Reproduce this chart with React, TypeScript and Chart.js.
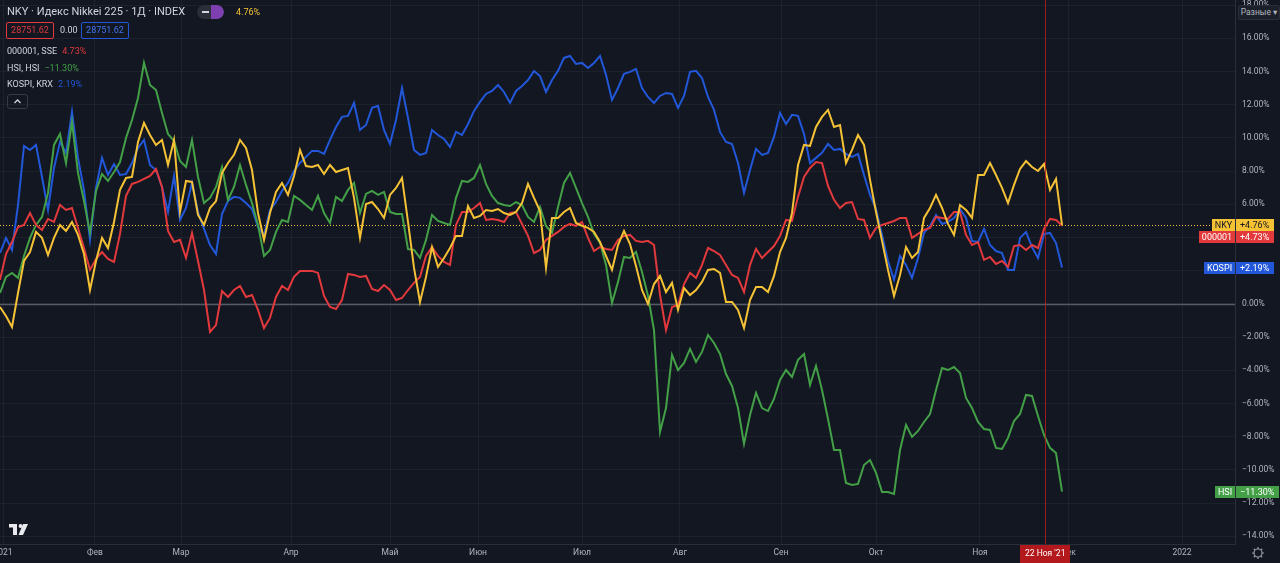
import React, { useEffect, useRef } from 'react';
import { Chart, registerables } from 'chart.js';

Chart.register(...registerables);

// ---------------- data (percent change since start, sampled along the time axis) ----------------
const nkyValues = [
  -0.18, -0.72, -1.39, 0.66, 2.59, 3.13, 4.34, 3.98, 2.95, 3.98,
  4.76, 4.40, 4.94, 4.16, 3.01, 0.84, 2.59, 3.98, 3.37, 4.94,
  6.87, 7.59, 7.65, 9.76, 10.90, 10.18, 9.58, 9.88, 8.37, 9.88,
  5.54, 7.41, 7.35, 5.36, 4.76, 5.78, 6.20, 7.89, 8.49, 8.98,
  9.88, 9.40, 8.07, 5.48, 3.86, 5.48, 6.75, 7.29, 6.57, 7.71,
  9.28, 8.31, 8.25, 8.37, 7.83, 8.37, 7.95, 8.07, 8.19, 6.39,
  3.98, 6.02, 6.14, 5.72, 5.18, 6.57, 6.99, 7.59, 4.94, 2.17,
  0.12, 1.63, 3.43, 2.23, 2.77, 3.37, 4.10, 4.10, 5.90, 5.18,
  5.30, 5.66, 5.60, 5.72, 5.48, 5.36, 5.54, 6.08, 7.23, 6.39,
  5.60, 2.17, 5.18, 5.18, 5.54, 5.78, 4.88, 4.70, 4.58, 4.34,
  3.73, 2.89, 2.05, 3.55, 4.40, 3.61, 2.29, 0.84, 0.00, 1.20,
  1.69, 0.72, 1.27, -0.36, 0.96, 0.54, 0.84, 1.33, 2.05, 2.11,
  1.87, 0.12, 0.12, -0.36, -1.45, 0.24, 1.02, 1.02, 0.72, 1.69,
  3.13, 3.98, 5.48, 8.37, 9.58, 9.52, 10.66, 11.27, 11.69, 10.66,
  10.78, 8.49, 9.28, 10.18, 9.58, 7.47, 5.54, 3.80, 2.05, 0.48,
  1.75, 3.43, 2.77, 3.13, 5.18, 5.78, 6.57, 5.78, 4.82, 4.16,
  5.96, 5.66, 5.18, 7.77, 7.77, 8.49, 7.77, 6.99, 6.08, 7.17,
  8.13, 8.61, 8.25, 8.01, 8.43, 6.87, 7.53, 4.76,
];

const sseValues = [
  1.45, 3.01, 3.73, 4.64, 4.76, 5.48, 4.76, 4.46, 5.12, 4.94,
  5.96, 5.66, 5.78, 4.58, 3.37, 2.05, 2.71, 3.13, 2.71, 2.53,
  4.22, 6.51, 7.23, 7.35, 7.53, 7.71, 8.13, 7.05, 4.40, 3.73,
  3.86, 2.77, 4.28, 2.59, 0.84, -1.69, -1.27, 0.78, 0.42, 0.84,
  1.08, 0.42, 0.54, -0.36, -1.45, -0.84, 0.42, 1.08, 0.84, 1.63,
  1.99, 1.99, 1.99, 1.87, 0.48, -0.18, -0.30, 0.24, 1.81, 1.75,
  1.63, 1.69, 0.90, 0.78, 1.14, 0.84, 0.24, 0.36, 0.84, 1.27,
  1.63, 2.89, 3.43, 2.89, 2.53, 2.35, 4.76, 5.54, 5.54, 5.78,
  6.08, 5.06, 5.12, 5.06, 4.94, 5.48, 5.54, 4.82, 4.10, 3.07,
  3.25, 3.86, 4.10, 4.34, 4.64, 4.82, 4.70, 4.94, 3.98, 3.19,
  3.43, 3.31, 3.25, 3.86, 4.10, 4.16, 3.80, 3.73, 3.80, 3.55,
  0.54, -1.57, -0.18, -0.06, 1.20, 1.87, 1.57, 2.35, 3.37, 3.19,
  2.95, 2.35, 1.75, 1.57, 0.72, 2.35, 3.31, 2.77, 3.13, 3.49,
  4.10, 5.06, 5.00, 6.45, 7.65, 8.19, 8.55, 8.49, 7.11, 6.27,
  5.78, 6.08, 6.14, 5.12, 5.06, 3.98, 4.58, 4.76, 4.88, 5.00,
  5.18, 5.18, 3.98, 4.22, 4.46, 4.58, 5.24, 5.18, 5.12, 5.54,
  5.54, 4.16, 3.55, 3.73, 2.65, 2.83, 2.41, 2.59, 2.23, 3.49,
  3.55, 3.25, 3.55, 3.37, 4.52, 5.12, 5.06, 4.73,
];

const hsiValues = [
  0.66, 1.63, 1.87, 1.57, 2.89, 3.98, 4.76, 5.24, 6.69, 9.58,
  10.24, 8.49, 10.96, 7.89, 6.20, 4.28, 6.81, 7.83, 7.41, 7.95,
  8.55, 10.00, 11.08, 12.41, 14.52, 13.19, 12.89, 11.51, 10.24, 9.82,
  8.61, 8.25, 9.88, 7.65, 6.08, 6.39, 7.05, 8.25, 6.27, 7.05,
  8.37, 7.17, 6.08, 4.76, 2.89, 3.25, 4.34, 5.06, 4.94, 6.51,
  6.27, 5.96, 5.66, 6.51, 5.48, 4.88, 6.45, 6.20, 6.87, 7.29,
  5.48, 6.63, 6.81, 6.57, 6.75, 5.54, 5.42, 5.42, 3.31, 3.25,
  2.77, 3.86, 5.36, 5.00, 4.88, 4.76, 6.39, 7.41, 7.35, 7.59,
  8.37, 7.23, 6.51, 6.08, 5.96, 5.90, 6.14, 5.96, 5.24, 4.94,
  5.84, 4.70, 4.28, 5.84, 7.29, 7.89, 6.99, 6.08, 5.24, 4.22,
  3.67, 2.35, 0.06, 1.33, 2.83, 2.77, 3.13, 1.93, 0.48, -1.57,
  -7.71, -6.27, -3.07, -3.98, -3.55, -2.71, -3.49, -2.89, -1.87, -2.35,
  -3.01, -4.22, -4.94, -6.27, -8.43, -6.69, -5.36, -6.27, -6.45, -5.72,
  -4.58, -3.98, -4.40, -3.37, -3.01, -4.88, -3.73, -5.18, -6.93, -8.80,
  -8.80, -10.78, -10.90, -10.84, -9.70, -9.40, -10.18, -11.33, -11.33, -11.45,
  -8.80, -7.29, -8.01, -7.65, -7.11, -6.63, -5.18, -3.86, -3.98, -3.80,
  -4.16, -5.66, -6.27, -7.11, -7.53, -7.59, -8.67, -8.73, -8.07, -7.05,
  -6.63, -5.48, -5.54, -6.75, -7.89, -8.67, -8.98, -11.30,
];

const kospiValues = [
  3.07, 3.98, 3.25, 5.96, 9.52, 9.28, 9.58, 7.65, 5.66, 8.19,
  9.76, 9.10, 11.57, 8.80, 6.87, 3.86, 6.99, 8.80, 7.77, 8.43,
  7.77, 7.83, 8.49, 9.40, 9.88, 8.37, 8.07, 7.05, 5.54, 7.71,
  5.06, 5.78, 7.29, 5.54, 4.52, 3.55, 3.01, 5.42, 6.20, 6.45,
  6.39, 6.08, 5.72, 4.64, 4.16, 5.66, 6.14, 6.81, 7.29, 8.01,
  8.49, 8.86, 9.22, 9.22, 9.04, 9.88, 10.66, 11.27, 11.33, 12.11,
  10.48, 10.78, 11.81, 11.93, 10.48, 9.64, 11.08, 13.01, 11.20, 9.28,
  8.98, 9.10, 10.48, 10.18, 9.94, 9.46, 10.36, 10.18, 10.84, 11.63,
  12.17, 12.65, 12.83, 13.19, 12.77, 12.11, 12.83, 13.13, 13.49, 14.04,
  13.73, 12.77, 13.49, 14.04, 14.82, 14.94, 14.46, 14.52, 14.22, 14.52,
  14.94, 13.80, 12.29, 13.01, 13.86, 13.98, 14.16, 13.01, 12.47, 12.11,
  12.53, 12.71, 12.65, 11.81, 12.53, 13.98, 14.04, 13.61, 12.47, 11.69,
  10.36, 9.76, 9.64, 8.49, 6.69, 8.07, 9.34, 8.98, 9.10, 10.06,
  11.51, 10.84, 11.39, 11.33, 10.24, 8.49, 8.80, 9.10, 9.64, 9.28,
  9.34, 9.04, 8.86, 9.04, 7.77, 6.57, 5.72, 4.16, 2.59, 1.45,
  2.89, 2.35, 1.57, 2.77, 4.28, 4.70, 5.36, 4.82, 4.94, 5.18,
  5.72, 5.18, 3.80, 3.73, 4.52, 3.55, 3.19, 3.07, 2.05, 2.05,
  3.98, 4.34, 3.43, 2.77, 4.22, 4.28, 3.67, 2.19,
];

const sampleIndex = nkyValues.map((_, i) => i);

// time-axis ticks (in sample units) and their labels
const monthTickPositions = [0.5, 15.83, 30.17, 48.5, 65, 79.67, 97, 113.33, 130.17, 146, 163.33, 178, 197];
const monthTickLabels = ['2021', 'Фев', 'Мар', 'Апр', 'Май', 'Июн', 'Июл', 'Авг', 'Сен', 'Окт', 'Ноя', 'Дек', '2022'];
const percentTicks = [-14, -12, -10, -8, -6, -4, -2, 0, 2, 4, 6, 8, 10, 12, 14, 16, 18];
const xRangeMax = 205.83;
const yRangeMin = -14.46;
const yRangeMax = 18.31;
const crosshairPosition = 174.2;
const crosshairLabel = "22 Ноя '21";

const titleText = 'NKY · Идекс Nikkei 225 · 1Д · INDEX';
const priceText = '28751.62';
const changeText = '0.00';
const legendNames = ['000001, SSE', 'HSI, HSI', 'KOSPI, KRX'];
const scaleModeText = 'Разные';

// ---------------- styles ----------------
const BG = '#131722';
const GRID = 'rgba(255,255,255,0.045)';
const AXIS_LINE = '#2a2e39';
const TEXT = '#b2b5be';
const LEGEND_TEXT = '#d1d4dc';
const NKY_COLOR = '#f5c236';
const SSE_COLOR = '#e2393c';
const HSI_COLOR = '#43a047';
const KOSPI_COLOR = '#2157d8';
const FONT = 'Roboto, "Noto Sans", "DejaVu Sans", sans-serif';
const AXIS_FONT_SIZE = 8.5;
const LABEL_FONT_SIZE = 9;

const seriesDefs = [
  { key: 'NKY', values: nkyValues, color: NKY_COLOR, nameInk: '#131722', valueInk: '#131722' },
  { key: '000001', values: sseValues, color: SSE_COLOR, nameInk: '#ffffff', valueInk: '#ffffff' },
  { key: 'HSI', values: hsiValues, color: HSI_COLOR, nameInk: '#ffffff', valueInk: '#ffffff' },
  { key: 'KOSPI', values: kospiValues, color: KOSPI_COLOR, nameInk: '#ffffff', valueInk: '#ffffff' },
];

function fmtPct(v: number, sign = false): string {
  const s = Math.abs(v).toFixed(2) + '%';
  if (v < 0) return '\u2212' + s;
  return (sign ? '+' : '') + s;
}

const lastOf = (a: number[]) => a[a.length - 1];

const decorPlugin = {
  id: 'tvDecor',
  beforeDraw(chart: any) {
    const { ctx, width, height } = chart;
    ctx.save();
    ctx.fillStyle = BG;
    ctx.fillRect(0, 0, width, height);
    ctx.restore();
  },
  beforeDatasetsDraw(chart: any) {
    const { ctx, chartArea, scales } = chart;
    const y = scales.y;
    ctx.save();
    const y0 = Math.round(y.getPixelForValue(0)) + 0.5;
    ctx.strokeStyle = '#565a66';
    ctx.lineWidth = 1.5;
    ctx.beginPath();
    ctx.moveTo(chartArea.left, y0);
    ctx.lineTo(chartArea.right, y0);
    ctx.stroke();
    const yl = Math.round(y.getPixelForValue(lastOf(nkyValues))) + 0.5;
    ctx.strokeStyle = NKY_COLOR;
    ctx.lineWidth = 1;
    ctx.setLineDash([1, 2]);
    ctx.beginPath();
    ctx.moveTo(chartArea.left, yl);
    ctx.lineTo(chartArea.right, yl);
    ctx.stroke();
    ctx.restore();
  },
  afterDatasetsDraw(chart: any) {
    const { ctx, chartArea, scales } = chart;
    const cx = Math.round(scales.x.getPixelForValue(crosshairPosition)) + 0.5;
    ctx.save();
    ctx.strokeStyle = 'rgba(190,30,30,0.8)';
    ctx.lineWidth = 1;
    ctx.beginPath();
    ctx.moveTo(cx, chartArea.top);
    ctx.lineTo(cx, chartArea.bottom);
    ctx.stroke();
    ctx.restore();
  },
  afterDraw(chart: any) {
    const { ctx, chartArea, scales, height } = chart;
    const x = scales.x;
    const y = scales.y;
    ctx.save();
    ctx.textBaseline = 'middle';

    // crosshair time label
    ctx.font = `${AXIS_FONT_SIZE}px ${FONT}`;
    const cx = x.getPixelForValue(crosshairPosition);
    const tw = ctx.measureText(crosshairLabel).width + 10;
    ctx.fillStyle = '#b3191c';
    ctx.fillRect(Math.round(cx - tw / 2), chartArea.bottom + 1, Math.round(tw), height - chartArea.bottom - 1);
    ctx.fillStyle = '#ffffff';
    ctx.textAlign = 'center';
    ctx.fillText(crosshairLabel, cx, chartArea.bottom + 10);

    // last-value labels on the price scale
    ctx.font = `${LABEL_FONT_SIZE}px ${FONT}`;
    const H = 12;
    const items = seriesDefs.map((s) => ({ ...s, last: lastOf(s.values), py: y.getPixelForValue(lastOf(s.values)) }));
    items.sort((a, b) => a.py - b.py);
    for (let i = 1; i < items.length; i++) {
      if (items[i].py < items[i - 1].py + H) items[i].py = items[i - 1].py + H;
    }
    const ax = chartArea.right;
    for (const it of items) {
      const valText = fmtPct(it.last, true);
      const nameW = Math.round(ctx.measureText(it.key).width + 6);
      const valW = Math.round(ctx.measureText(valText).width + 9);
      const top = Math.round(it.py - H / 2);
      ctx.fillStyle = it.color;
      ctx.fillRect(ax - nameW, top, nameW, H);
      ctx.fillRect(ax + 1, top, valW, H);
      ctx.fillStyle = it.nameInk;
      ctx.textAlign = 'center';
      ctx.fillText(it.key, ax - nameW / 2, top + H / 2 + 0.5);
      ctx.fillStyle = it.valueInk;
      ctx.textAlign = 'left';
      ctx.fillText(valText, ax + 5, top + H / 2 + 0.5);
    }

    // TradingView logo
    const lx = 9;
    const ly = 524;
    ctx.fillStyle = '#e9eaee';
    ctx.fillRect(lx, ly, 8, 3.5);
    ctx.fillRect(lx + 4, ly, 4, 11);
    ctx.beginPath();
    ctx.arc(lx + 11.5, ly + 2, 1.9, 0, Math.PI * 2);
    ctx.fill();
    ctx.beginPath();
    ctx.moveTo(lx + 14, ly);
    ctx.lineTo(lx + 19, ly);
    ctx.lineTo(lx + 14, ly + 11);
    ctx.lineTo(lx + 9.5, ly + 11);
    ctx.closePath();
    ctx.fill();

    // gear icon
    const gx = 1258;
    const gy = 553;
    ctx.strokeStyle = '#9598a1';
    ctx.lineWidth = 1.2;
    ctx.beginPath();
    ctx.arc(gx, gy, 4, 0, Math.PI * 2);
    ctx.stroke();
    for (let k = 0; k < 8; k++) {
      const a = (k * Math.PI) / 4;
      ctx.beginPath();
      ctx.moveTo(gx + Math.cos(a) * 4, gy + Math.sin(a) * 4);
      ctx.lineTo(gx + Math.cos(a) * 6, gy + Math.sin(a) * 6);
      ctx.stroke();
    }
    ctx.restore();
  },
};

const abs = (style: any) => ({ position: 'absolute' as const, whiteSpace: 'nowrap' as const, ...style });

export default function App() {
  const canvasRef = useRef<HTMLCanvasElement>(null);

  useEffect(() => {
    document.body.style.margin = '0';
    document.body.style.background = BG;
    const canvas = canvasRef.current;
    if (!canvas) return;
    const chart = new Chart(canvas, {
      type: 'line',
      data: {
        datasets: seriesDefs.map((s) => ({
          label: s.key,
          data: s.values.map((v, i) => ({ x: sampleIndex[i], y: v })),
          borderColor: s.color,
          backgroundColor: s.color,
          borderWidth: 2,
          pointRadius: 0,
          tension: 0,
          fill: false,
        })),
      },
      options: {
        responsive: false,
        animation: false,
        devicePixelRatio: 1,
        events: [],
        layout: { padding: 0, autoPadding: false },
        plugins: { legend: { display: false }, tooltip: { enabled: false } },
        scales: {
          x: {
            type: 'linear',
            min: 0,
            max: xRangeMax,
            afterBuildTicks: (scale: any) => {
              scale.ticks = monthTickPositions.map((v) => ({ value: v }));
            },
            afterFit: (scale: any) => {
              scale.height = 19;
              scale.paddingLeft = 0;
              scale.paddingRight = 0;
            },
            grid: { color: GRID, drawTicks: false },
            border: { color: AXIS_LINE },
            ticks: {
              autoSkip: false,
              maxRotation: 0,
              minRotation: 0,
              padding: 4,
              color: TEXT,
              font: { family: FONT, size: AXIS_FONT_SIZE },
              callback: (_v: any, i: number) => monthTickLabels[i],
            },
          },
          y: {
            type: 'linear',
            position: 'right',
            min: yRangeMin,
            max: yRangeMax,
            afterBuildTicks: (scale: any) => {
              scale.ticks = percentTicks.map((v) => ({ value: v }));
            },
            afterFit: (scale: any) => {
              scale.width = 45;
              scale.paddingTop = 0;
              scale.paddingBottom = 0;
            },
            grid: { color: GRID, drawTicks: false },
            border: { color: AXIS_LINE },
            ticks: {
              padding: 7,
              color: TEXT,
              font: { family: FONT, size: AXIS_FONT_SIZE },
              callback: (v: any) => fmtPct(Number(v)),
            },
          },
        },
      } as any,
      plugins: [decorPlugin],
    });
    return () => chart.destroy();
  }, []);

  const legendValues = [lastOf(sseValues), lastOf(hsiValues), lastOf(kospiValues)];
  const legendColors = [SSE_COLOR, HSI_COLOR, KOSPI_COLOR];
  const legendTops = [43, 59.5, 76];

  return (
    <div style={{ position: 'relative', width: 1280, height: 563, background: BG, fontFamily: FONT, overflow: 'hidden' }}>
      <canvas ref={canvasRef} width={1280} height={563} style={{ display: 'block' }} />

      <div style={abs({ left: 7, top: 4, fontSize: 11, lineHeight: '16px', color: LEGEND_TEXT })}>{titleText}</div>
      <div style={abs({ left: 197, top: 5, width: 27, height: 14, borderRadius: 7, background: '#2a2e39', overflow: 'hidden' })}>
        <div style={abs({ left: 5, top: 6, width: 7, height: 2, background: '#d1d4dc' })} />
        <div style={abs({ left: 14, top: 0, width: 13, height: 14, borderRadius: '0 7px 7px 0', background: '#7e3fb0' })} />
      </div>
      <div style={abs({ left: 236, top: 4, fontSize: 9, lineHeight: '16px', color: NKY_COLOR })}>{fmtPct(lastOf(nkyValues))}</div>

      <div style={abs({ left: 6, top: 22, width: 46, height: 15, border: `1px solid ${SSE_COLOR}`, borderRadius: 2, color: SSE_COLOR, fontSize: 9, lineHeight: '15px', textAlign: 'center' })}>{priceText}</div>
      <div style={abs({ left: 60, top: 22, fontSize: 9, lineHeight: '17px', color: LEGEND_TEXT })}>{changeText}</div>
      <div style={abs({ left: 81, top: 22, width: 46, height: 15, border: `1px solid ${KOSPI_COLOR}`, borderRadius: 2, color: '#3d74f0', fontSize: 9, lineHeight: '15px', textAlign: 'center' })}>{priceText}</div>

      {legendNames.map((name, i) => (
        <div key={name} style={abs({ left: 7, top: legendTops[i], fontSize: 9, lineHeight: '16px', color: LEGEND_TEXT })}>
          {name}
          <span style={{ marginLeft: 5, color: legendColors[i] }}>{fmtPct(legendValues[i])}</span>
        </div>
      ))}

      <div style={abs({ left: 7, top: 94, width: 19, height: 13, border: '1px solid #363a45', borderRadius: 3 })}>
        <svg width="19" height="13" style={{ display: 'block' }}>
          <polyline points="6.5,8 9.5,5 12.5,8" fill="none" stroke="#d1d4dc" strokeWidth="1.3" />
        </svg>
      </div>

      <div style={abs({ left: 1238, top: 5, width: 40, height: 13, background: '#1c202b', border: '1px solid #2a2e39', borderRadius: 2, fontSize: 8.5, lineHeight: '13px', color: TEXT, textAlign: 'center' })}>
        {scaleModeText} ▾
      </div>
    </div>
  );
}
